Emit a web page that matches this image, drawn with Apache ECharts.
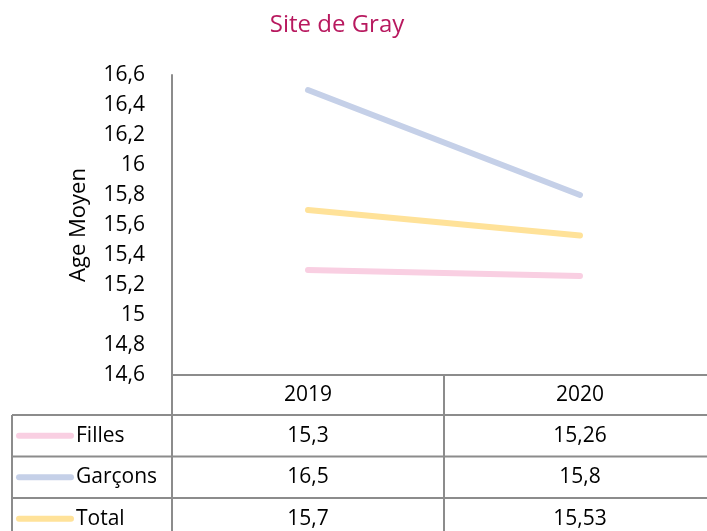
<!DOCTYPE html>
<html lang='fr'>

  <head>
    <meta charset='utf-8'>
    <title>Site de Gray</title>
    <style>
      html, body { margin: 0; padding: 0; background: #fff; overflow: hidden; }
    </style>
  </head>

  <body>
    <!-- la zone de tracé déborde à droite comme dans l'original -->
    <div id="main" style="width:716px;height:531px;"></div>

    <script src="https://cdn.jsdelivr.net/npm/echarts@6/dist/echarts.min.js"></script>
    <script>
      // données
      var annees = ['2019', '2020'];
      var nomsSeries = ['Filles', 'Garçons', 'Total'];
      var filles = [15.3, 15.26];
      var garcons = [16.5, 15.8];
      var total = [15.7, 15.53];
      var couleurs = ['#f9cfe2', '#c5d0e8', '#ffe299'];

      var valeurs = [filles, garcons, total];
      var police = '"Open Sans", "Noto Sans", sans-serif';
      var gris = '#8c8c8c';

      function virgule(v) {
        return String(v).replace('.', ',');
      }

      var myChart = echarts.init(document.getElementById('main'));

      var series = nomsSeries.map(function(nom, i) {
        return {
          name: nom,
          type: 'line',
          data: valeurs[i],
          symbol: 'none',
          silent: true,
          lineStyle: { color: couleurs[i], width: 6, cap: 'round' },
          itemStyle: { color: couleurs[i] }
        };
      });

      var option = {
        backgroundColor: '#fff',
        animation: false,
        title: {
          text: 'Site de Gray',
          left: 332,
          top: 8,
          textAlign: 'center',
          textStyle: { color: '#b8195f', fontSize: 24, fontWeight: 'normal', fontFamily: police }
        },
        grid: { left: 172, top: 75, right: 0, height: 300 },
        xAxis: {
          type: 'category',
          data: annees,
          boundaryGap: true,
          axisLine: { show: true, lineStyle: { color: gris, width: 2 } },
          axisTick: { show: false },
          axisLabel: { color: '#000', fontSize: 21, fontFamily: police, margin: 10 },
          splitLine: { show: false }
        },
        yAxis: {
          type: 'value',
          min: 14.6,
          max: 16.6,
          interval: 0.2,
          name: 'Age Moyen',
          nameLocation: 'middle',
          nameGap: 82,
          nameRotate: 90,
          nameTextStyle: { color: '#000', fontSize: 22, fontFamily: police },
          axisLine: { show: true, lineStyle: { color: gris, width: 2 } },
          axisTick: { show: false },
          splitLine: { show: false },
          axisLabel: {
            color: '#000',
            fontSize: 21,
            fontFamily: police,
            margin: 27,
            formatter: function(v) { return virgule(Math.round(v * 10) / 10); }
          }
        },
        series: series
      };

      myChart.setOption(option);

      // tableau de données sous l'axe
      function dessinerTableau() {
        var x0 = myChart.convertToPixel({ xAxisIndex: 0 }, annees[0]);
        var x1 = myChart.convertToPixel({ xAxisIndex: 0 }, annees[1]);
        var pas = x1 - x0;
        var gauche = 172;
        var droite = myChart.getWidth();
        var bas = myChart.convertToPixel({ yAxisIndex: 0 }, 14.6);
        var hauteurLigne = 41.5;
        var debutLignes = bas + 40;
        var bord = 12;
        var elements = [];
        var ligne = { stroke: gris, lineWidth: 2 };

        // séparateur vertical entre les années
        elements.push({ type: 'line', shape: { x1: gauche + pas, y1: bas, x2: gauche + pas, y2: 531 }, style: ligne });
        // prolongement de l'axe vertical
        elements.push({ type: 'line', shape: { x1: gauche, y1: bas, x2: gauche, y2: 531 }, style: ligne });
        // bord gauche de la légende
        elements.push({ type: 'line', shape: { x1: bord, y1: debutLignes, x2: bord, y2: 531 }, style: ligne });

        nomsSeries.forEach(function(nom, i) {
          var y = debutLignes + i * hauteurLigne;
          elements.push({ type: 'line', shape: { x1: bord, y1: y, x2: droite, y2: y }, style: ligne });
          var yc = y + hauteurLigne / 2;
          elements.push({
            type: 'line',
            shape: { x1: 19, y1: yc, x2: 71, y2: yc },
            style: { stroke: couleurs[i], lineWidth: 6, lineCap: 'round' }
          });
          elements.push({
            type: 'text',
            x: 76, y: yc,
            style: { text: nom, fill: '#000', font: '21px ' + police, textVerticalAlign: 'middle', textAlign: 'left' }
          });
          valeurs[i].forEach(function(v, j) {
            elements.push({
              type: 'text',
              x: x0 + j * pas, y: yc,
              style: { text: virgule(v), fill: '#000', font: '21px ' + police, textVerticalAlign: 'middle', textAlign: 'center' }
            });
          });
        });

        myChart.setOption({ graphic: elements });
      }

      dessinerTableau();
    </script>

  </body>

</html>
